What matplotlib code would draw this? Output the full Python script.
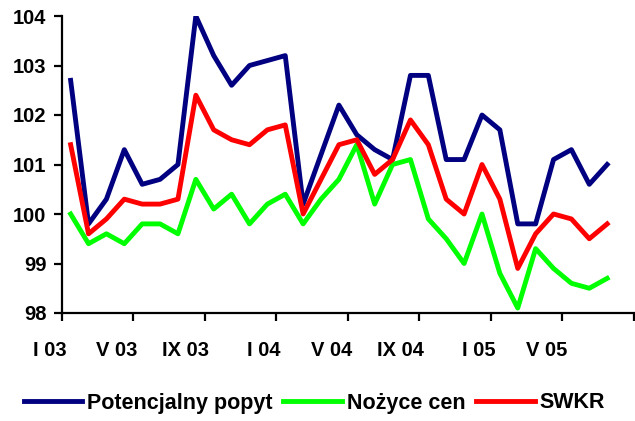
import matplotlib
matplotlib.use('Agg')
import matplotlib.pyplot as plt
import matplotlib.transforms as mtransforms
import numpy as np

# monthly index values, I 2003 - VII 2005
potencjalny_popyt = [102.7, 99.8, 100.3, 101.3, 100.6, 100.7, 101.0, 104.0, 103.2, 102.6,
                     103.0, 103.1, 103.2, 100.2, 101.2, 102.2, 101.6, 101.3, 101.1, 102.8,
                     102.8, 101.1, 101.1, 102.0, 101.7, 99.8, 99.8, 101.1, 101.3, 100.6, 101.0]
nozyce_cen = [100.0, 99.4, 99.6, 99.4, 99.8, 99.8, 99.6, 100.7, 100.1, 100.4,
              99.8, 100.2, 100.4, 99.8, 100.3, 100.7, 101.4, 100.2, 101.0, 101.1,
              99.9, 99.5, 99.0, 100.0, 98.8, 98.1, 99.3, 98.9, 98.6, 98.5, 98.7]
swkr = [101.4, 99.6, 99.9, 100.3, 100.2, 100.2, 100.3, 102.4, 101.7, 101.5,
        101.4, 101.7, 101.8, 100.0, 100.7, 101.4, 101.5, 100.8, 101.1, 101.9,
        101.4, 100.3, 100.0, 101.0, 100.3, 98.9, 99.6, 100.0, 99.9, 99.5, 99.8]
tick_labels = ['I 03', 'V 03', 'IX 03', 'I 04', 'V 04', 'IX 04', 'I 05', 'V 05']
n_categories = 32

plt.rcParams['font.family'] = ['Liberation Sans', 'DejaVu Sans']
plt.rcParams['font.weight'] = 'bold'

fig = plt.figure(figsize=(6.35, 4.21), dpi=100)
ax = fig.add_axes([61.7 / 635, 1 - 313 / 421, (634 - 61.7) / 635, 297 / 421])

x = np.arange(len(potencjalny_popyt))
ax.plot(x, potencjalny_popyt, color='#000080', lw=3.5, label='Potencjalny popyt')
ax.plot(x, nozyce_cen, color='#00ff00', lw=3.5, label='Nożyce cen')
ax.plot(x, swkr, color='#ff0000', lw=3.5, label='SWKR')

ax.set_xlim(-0.5, n_categories - 0.5)
ax.set_ylim(98, 104)
ax.set_yticks(range(98, 105))
ax.set_yticklabels([str(v) for v in range(98, 105)], fontsize=14.5, fontweight='bold')

bounds = np.arange(-0.5, n_categories, 4)
ax.set_xticks(bounds)
ax.set_xticklabels([])
trans = mtransforms.blended_transform_factory(ax.transData, ax.transAxes)
for pos, lab in zip(bounds, tick_labels):
    ax.text(pos + 0.25, -0.125, lab, transform=trans, ha='right', va='center',
            fontsize=14.5, fontweight='bold')

for side in ['top', 'right']:
    ax.spines[side].set_visible(False)
for side in ['left', 'bottom']:
    ax.spines[side].set_linewidth(1.6)
ax.tick_params(direction='out', length=6, width=1.6, pad=5)

fig.legend(loc='center', bbox_to_anchor=(314.5 / 635, 1 - 403 / 421), ncol=3,
           frameon=False, handlelength=2.7, handletextpad=0.25,
           columnspacing=0.5, prop={'weight': 'bold', 'size': 15.5})

fig.savefig('out.png', dpi=100)
